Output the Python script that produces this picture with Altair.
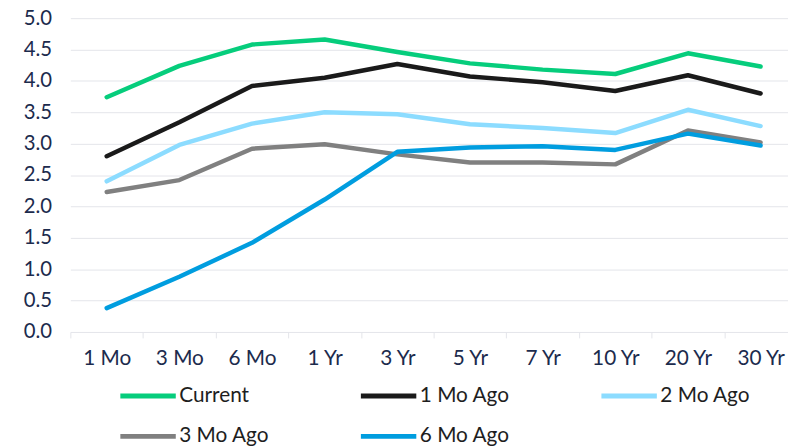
import altair as alt
import pandas as pd

maturities = ["1 Mo", "3 Mo", "6 Mo", "1 Yr", "3 Yr", "5 Yr", "7 Yr", "10 Yr", "20 Yr", "30 Yr"]
series_names = ["Current", "1 Mo Ago", "2 Mo Ago", "3 Mo Ago", "6 Mo Ago"]
current = [3.74, 4.24, 4.58, 4.66, 4.46, 4.28, 4.18, 4.11, 4.44, 4.23]
mo1_ago = [2.80, 3.34, 3.92, 4.05, 4.27, 4.07, 3.98, 3.84, 4.09, 3.80]
mo2_ago = [2.40, 2.98, 3.32, 3.50, 3.47, 3.31, 3.25, 3.17, 3.54, 3.28]
mo3_ago = [2.23, 2.42, 2.92, 2.99, 2.83, 2.70, 2.70, 2.67, 3.21, 3.02]
mo6_ago = [0.38, 0.88, 1.42, 2.11, 2.87, 2.94, 2.96, 2.90, 3.16, 2.97]
colors = ["#06cd7c", "#1a1a1a", "#8cdcff", "#808080", "#009ddf"]

rows = []
for name, vals in zip(series_names, [current, mo1_ago, mo2_ago, mo3_ago, mo6_ago]):
    for m, v in zip(maturities, vals):
        rows.append({"Maturity": m, "Series": name, "Yield": v})
df = pd.DataFrame(rows)

AXIS_COLOR = "#1c2b4d"
FONT = "Lato"

chart = alt.Chart(df).mark_line(strokeWidth=4.5, strokeJoin="round", strokeCap="round").encode(
    x=alt.X("Maturity:N", sort=maturities,
            scale=alt.Scale(range=[0, 734], paddingInner=0, paddingOuter=0),
            axis=alt.Axis(title=None, labelAngle=0, grid=False, domain=False,
                          ticks=True, tickBand="extent", tickSize=6, tickColor="#e4e5ea",
                          tickWidth=1, labelPadding=10, labelFontSize=21,
                          labelColor=AXIS_COLOR, labelFont=FONT)),
    y=alt.Y("Yield:Q", scale=alt.Scale(domain=[0, 5], nice=False),
            axis=alt.Axis(title=None, values=[0, 0.5, 1, 1.5, 2, 2.5, 3, 3.5, 4, 4.5, 5],
                          format=".1f", domain=False, ticks=False, grid=True,
                          gridColor="#e4e5ea", gridWidth=1, labelPadding=19,
                          labelFontSize=20.5, labelColor=AXIS_COLOR, labelFont=FONT)),
    color=alt.Color("Series:N", sort=series_names,
                    scale=alt.Scale(domain=series_names, range=colors),
                    legend=alt.Legend(title=None, orient="none", legendX=48, legendY=351,
                                      direction="horizontal", columns=3, columnPadding=82,
                                      gridAlign="all", rowPadding=-17, symbolType="stroke",
                                      symbolSize=3136, symbolStrokeWidth=5, labelOffset=1,
                                      labelFontSize=21, labelColor="#1e1e1e", labelFont=FONT,
                                      padding=0)),
).properties(
    width=725,
    height=317,
    autosize=alt.AutoSizeParams(type="none"),
    padding={"left": 63, "top": 8, "right": 0, "bottom": 117},
).configure_view(stroke=None)

chart.save("out.html", embed_options={"renderer": "svg", "actions": False})
